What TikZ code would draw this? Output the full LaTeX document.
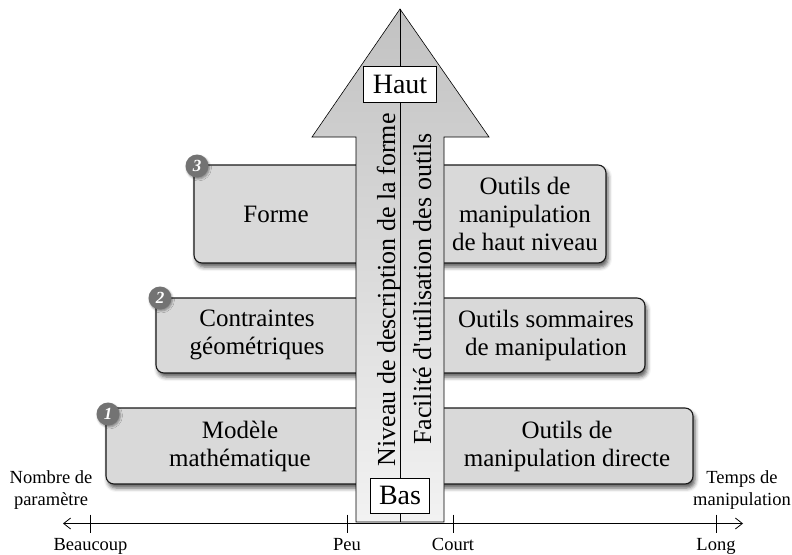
\documentclass[tikz,border=0pt]{standalone}
\usepackage{fontspec}
\setmainfont{Liberation Serif}
\newfontfamily\rawserif{Liberation Serif}[Ligatures=TeXOff]
\usetikzlibrary{shadows.blur,arrows.meta}
\tikzset{
  levelbox/.style={draw=black!90, line width=1.1pt, fill=black!15, rounded corners=8pt,
    blur shadow={shadow xshift=2pt, shadow yshift=-4pt, shadow blur radius=4pt, shadow opacity=65}},
  boxtext/.style={align=center, font=\fontsize{25}{28}\selectfont},
  badge/.style={circle, fill=black!55, minimum size=23pt, inner sep=0pt, text=white,
    font=\fontsize{17}{17}\selectfont\bfseries\itshape,
    blur shadow={shadow xshift=1pt, shadow yshift=-1.5pt, shadow blur radius=2pt, shadow opacity=40}},
  tagbox/.style={draw, line width=0.9pt, fill=white, inner sep=0pt, font=\fontsize{28}{28}\selectfont},
  vtext/.style={rotate=90, anchor=base, font=\fontsize{26}{26}\selectfont},
  axislabel/.style={align=center, font=\fontsize{18.5}{22}\selectfont},
  tick/.style={line width=0.8pt}
}
\begin{document}
\begin{tikzpicture}[x=1pt,y=-1pt]
\useasboundingbox (0,0) rectangle (792,554);

% level boxes (behind the arrow)
\node[levelbox, minimum width=412pt, minimum height=98pt] (b3) at (400,214) {};
\node[levelbox, minimum width=489pt, minimum height=75pt] (b2) at (400.5,335.5) {};
\node[levelbox, minimum width=587pt, minimum height=76pt] (b1) at (399.5,446) {};

% badges
\node[badge] (n3) at (197,166) {3};
\node[badge] (n2) at (160,298) {2};
\node[badge] (n1) at (108,414) {1};

% box texts
\node[boxtext] (t3l) at (276,214) {Forme};
\node[boxtext] (t3r) at (525,214) {Outils de\\manipulation\\de haut niveau};
\node[boxtext] (t2l) at (257,335) {Contraintes\\géométriques};
\node[boxtext] (t2r) at (546,335) {Outils sommaires\\de manipulation};
\node[boxtext] (t1l) at (240,446) {Modèle\\mathématique};
\node[boxtext] (t1r) at (567,446) {Outils de\\manipulation directe};

% big arrow
\coordinate (tip) at (400,9);
\coordinate (base) at (400,522);
\draw[line width=0.6pt, top color=black!24, bottom color=black!5]
  (tip) -- (489,137) -- (444,137) -- (444,522) -- (356,522) -- (356,137) -- (312,137) -- cycle;
\draw[line width=0.6pt] (tip) -- (base);

\node[vtext] (niv) at (395,290) {Niveau de description de la forme};
\node[vtext] (fac) at (431,289) {Facilité d{\rawserif '}utilisation des outils};

\node[tagbox, minimum width=73pt, minimum height=36pt] (haut) at (400,84) {Haut};
\node[tagbox, minimum width=59pt, minimum height=35pt] (bas) at (400,495.5) {Bas};

% axis
\coordinate (axl) at (63,523.5);
\coordinate (axr) at (743,523.5);
\draw[line width=0.8pt, {Straight Barb[length=7pt,width=11pt]}-{Straight Barb[length=7pt,width=11pt]}] (axl) -- (axr);
\coordinate (k1) at (90.5,523.5);
\coordinate (k2) at (347,523.5);
\coordinate (k3) at (453,523.5);
\coordinate (k4) at (716,523.5);
\foreach \k in {k1,k2,k3,k4} \draw[tick] ([yshift=9pt]\k) -- ([yshift=-9pt]\k);

\node[axislabel, anchor=base] (lb1) at (90.5,550) {Beaucoup};
\node[axislabel, anchor=base] (lb2) at (347,550) {Peu};
\node[axislabel, anchor=base] (lb3) at (453,550) {Court};
\node[axislabel, anchor=base] (lb4) at (716,550) {Long};

\node[axislabel] (ql) at (51,490) {Nombre de\\paramètre};
\node[axislabel] (qr) at (742,490) {Temps de\\manipulation};
\end{tikzpicture}
\end{document}
